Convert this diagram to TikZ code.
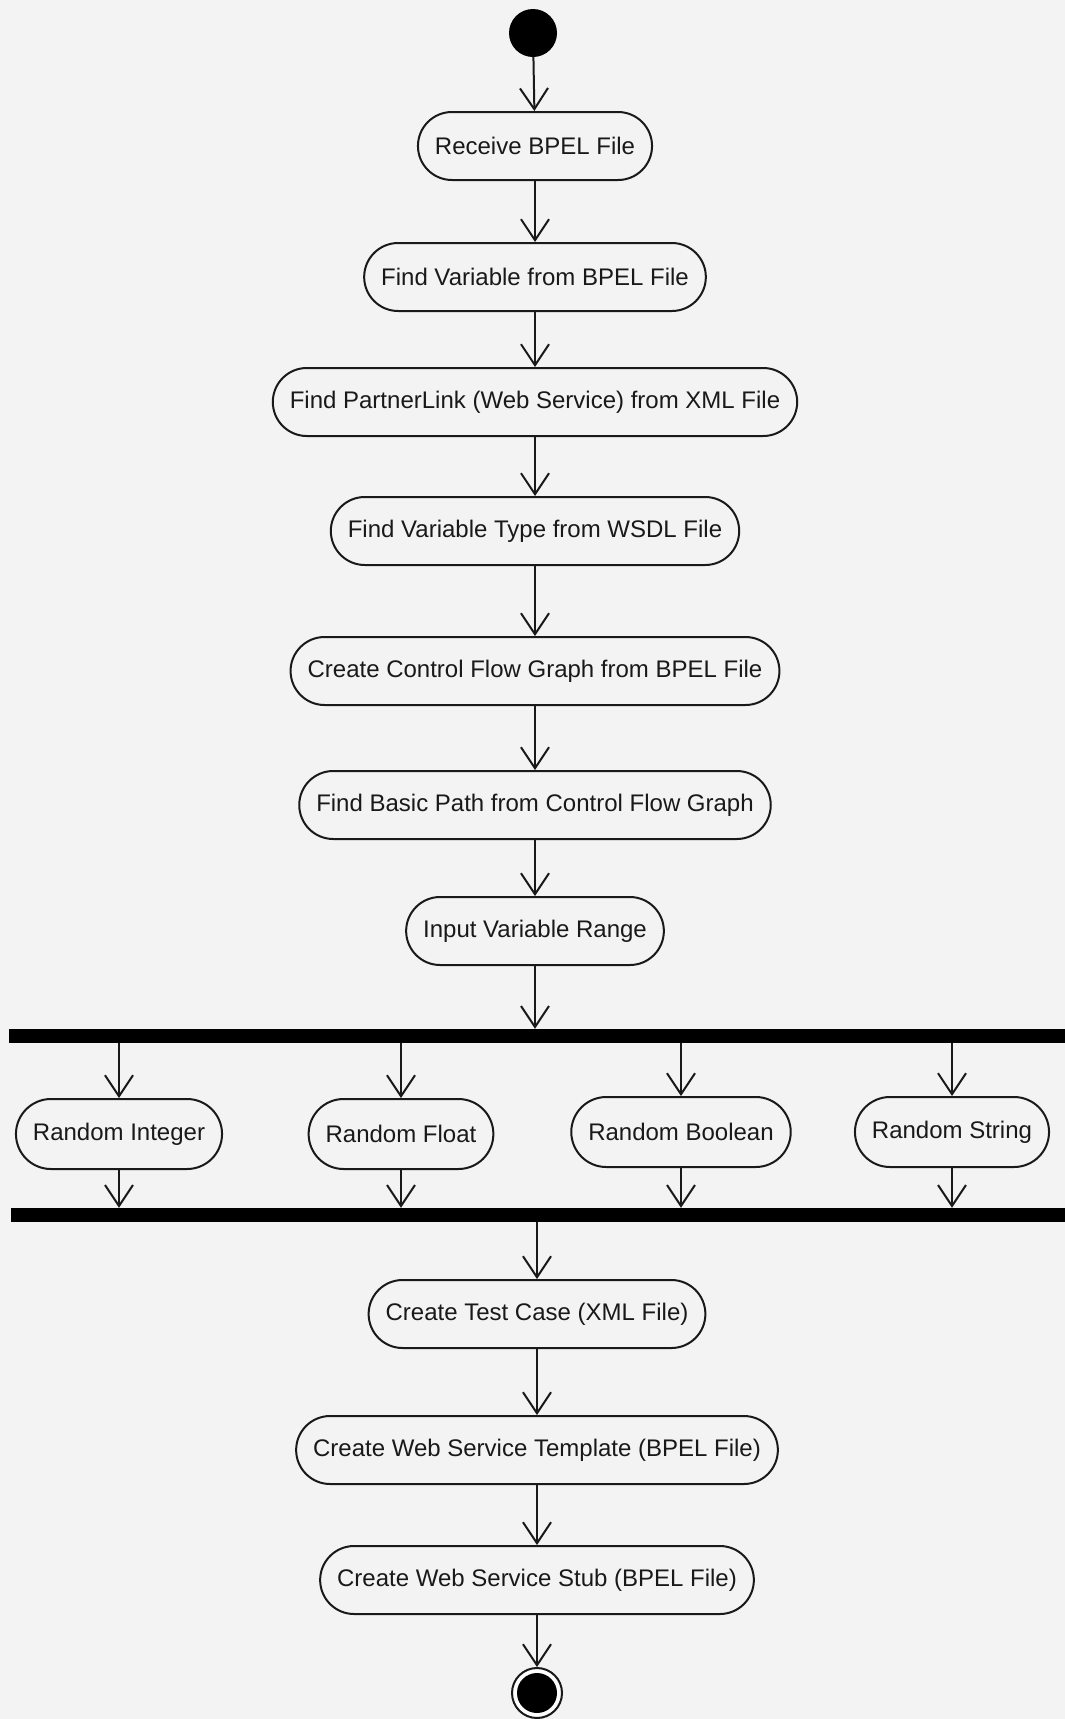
\documentclass[tikz,border=0pt]{standalone}
\usepackage{fontspec}
\setmainfont{Liberation Sans}
\usetikzlibrary{arrows.meta}
\definecolor{paper}{RGB}{243,243,243}
\definecolor{ink}{RGB}{25,25,25}
\tikzset{
  action/.style={draw=ink, line width=2pt, rectangle, rounded corners=34pt,
    minimum height=68pt, inner xsep=17pt, inner ysep=0pt, text=ink,
    font=\fontsize{24}{28}\selectfont},
  choice/.style={action, minimum height=70pt, rounded corners=35pt},
  syncbar/.style={fill=black, draw=none, rectangle, minimum height=14pt, inner sep=0pt},
  flow/.style={draw=ink, line width=2pt, -{Straight Barb[length=21pt, width=28pt, line width=2pt]}},
}
\begin{document}
\begin{tikzpicture}[x=1pt, y=-1pt]
  \fill[paper] (0,0) rectangle (1065,1719);
  \useasboundingbox (0,0) rectangle (1065,1719);

  % initial state
  \node[circle, fill=black, minimum size=48pt, inner sep=0pt] (start) at (533,33) {};

  % main column of actions
  \node[action] (recv)  at (535,146)  {Receive BPEL File};
  \node[action] (fvar)  at (535,277)  {Find Variable from BPEL File};
  \node[action] (plink) at (535,402)  {Find PartnerLink (Web Service) from XML File};
  \node[action] (vtype) at (535,531)  {Find Variable Type from WSDL File};
  \node[action] (cfg)   at (535,671)  {Create Control Flow Graph from BPEL File};
  \node[action] (bpath) at (535,805)  {Find Basic Path from Control Flow Graph};
  \node[action] (range) at (535,931)  {Input Variable Range};

  % fork and join bars
  \node[syncbar, minimum width=1056pt] (fork) at (537,1036) {};
  \node[syncbar, minimum width=1054pt] (join) at (538,1215) {};

  % parallel random generators
  \node[choice] (rint)   at (119,1134) {Random Integer};
  \node[choice] (rfloat) at (401,1134) {Random Float};
  \node[choice] (rbool)  at (681,1132) {Random Boolean};
  \node[choice] (rstr)   at (952,1132) {Random String};

  % output steps
  \node[action] (tcase) at (537,1314) {Create Test Case (XML File)};
  \node[action] (tmpl)  at (537,1450) {Create Web Service Template (BPEL File)};
  \node[action] (stub)  at (537,1580) {Create Web Service Stub (BPEL File)};

  % final state
  \node[circle, draw=ink, line width=2pt, fill=white, minimum size=50pt, inner sep=0pt] (final) at (537,1693) {};
  \fill[black] (final.center) circle (20pt);

  % connectors
  \draw[flow] (start) -- (recv);
  \draw[flow] (recv) -- (fvar);
  \draw[flow] (fvar) -- (plink);
  \draw[flow] (plink) -- (vtype);
  \draw[flow] (vtype) -- (cfg);
  \draw[flow] (cfg) -- (bpath);
  \draw[flow] (bpath) -- (range);
  \draw[flow] (range.south) -- (range.south |- fork.north);

  \foreach \r in {rint, rfloat, rbool, rstr} {
    \draw[flow] (fork.south -| \r.north) -- (\r.north);
    \draw[flow] (\r.south) -- (\r.south |- join.north);
  }

  \draw[flow] (join.south -| tcase.north) -- (tcase.north);
  \draw[flow] (tcase) -- (tmpl);
  \draw[flow] (tmpl) -- (stub);
  \draw[flow] (stub) -- (final);
\end{tikzpicture}
\end{document}
